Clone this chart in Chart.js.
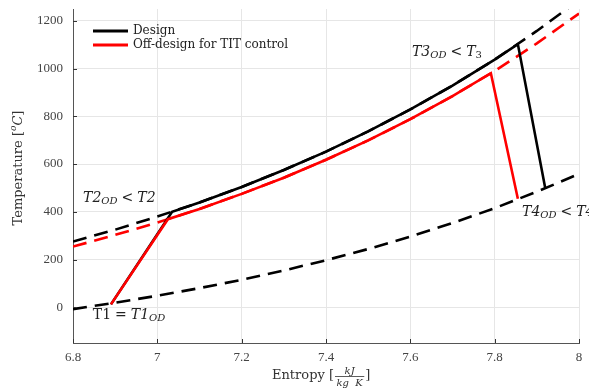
<!DOCTYPE html>
<html>
<head>
<meta charset="utf-8">
<script src="https://cdn.jsdelivr.net/npm/chart.js@4.4.1/dist/chart.umd.min.js"></script>
<style>
  html, body { margin: 0; padding: 0; background: #fff; }
  #wrap { width: 589px; height: 388px; }
</style>
</head>
<body>
<div id="wrap"><canvas id="ts"></canvas></div>
<script>
// Entropy axis ticks [kJ/(kg K)] and temperature axis ticks [°C]
const xTicks = [6.8, 7.0, 7.2, 7.4, 7.6, 7.8, 8.0];
const yTicks = [0, 200, 400, 600, 800, 1000, 1200];

// Low-pressure isobar (shared by both cycles)
const lowS = [6.8, 6.9, 7.0, 7.1, 7.2, 7.3, 7.4, 7.5, 7.6, 7.7, 7.8, 7.9, 8.0];
const lowT = [-8, 19, 48, 80, 115, 154, 197, 244, 296, 353, 415, 484, 559];

// High-pressure isobar, design point
const hiS = [6.8, 6.9, 7.0, 7.1, 7.2, 7.3, 7.4, 7.5, 7.6, 7.7, 7.8, 7.9, 8.0];
const hiT = [275, 325, 380, 439, 504, 575, 652, 737, 829, 929, 1038, 1158, 1288];

// High-pressure isobar, off-design (TIT control)
const odS = [6.8, 6.9, 7.0, 7.1, 7.2, 7.3, 7.4, 7.5, 7.6, 7.7, 7.8, 7.9, 8.0];
const odT = [254, 303, 355, 412, 475, 543, 618, 699, 788, 885, 990, 1106, 1231];

// Design cycle: compression 1-2, heating 2-3, expansion 3-4
const designS = [6.89, 7.035, 7.1, 7.2, 7.3, 7.4, 7.5, 7.6, 7.7, 7.8, 7.855, 7.92];
const designT = [12, 400, 439, 504, 575, 652, 737, 829, 929, 1038, 1103, 499];

// Off-design cycle
const offS = [6.89, 7.025, 7.1, 7.2, 7.3, 7.4, 7.5, 7.6, 7.7, 7.791, 7.855];
const offT = [12, 369, 412, 475, 543, 618, 699, 788, 885, 981, 455];

const legendLabels = ['Design', 'Off-design for TIT control'];

const pts = (s, t) => s.map((v, i) => ({ x: v, y: t[i] }));
const SERIF = "'Liberation Serif', 'DejaVu Serif', serif";
const WIDE = "'DejaVu Serif', 'Liberation Serif', serif";
const DASH = [14, 8];

function line(data, color, dash) {
  return {
    data, borderColor: color, borderWidth: 2.6, borderDash: dash || [],
    showLine: true, pointRadius: 0, tension: 0, fill: false,
    borderCapStyle: 'butt', borderJoinStyle: 'miter'
  };
}

// Draws a sequence of text runs (roman / italic / subscript) from a left anchor
function drawRuns(ctx, x, y, runs, family) {
  let cx = x;
  for (const r of runs) {
    ctx.font = (r.italic ? 'italic ' : '') + r.size + 'px ' + (family || SERIF);
    ctx.fillText(r.text, cx, y + (r.dy || 0));
    cx += ctx.measureText(r.text).width + (r.gap || 0);
  }
  return cx;
}

const sub = t => ({ text: t, italic: true, size: 10, dy: 3, gap: 4 });
const rel = t => ({ text: t, size: 14, gap: 4 });

const decorations = {
  id: 'decorations',
  afterDraw(chart) {
    const { ctx, chartArea: a, scales: { x, y } } = chart;
    ctx.save();

    // inward tick marks
    ctx.strokeStyle = '#333';
    ctx.lineWidth = 1;
    ctx.beginPath();
    for (const v of xTicks) {
      const px = Math.round(x.getPixelForValue(v)) + 0.5;
      ctx.moveTo(px, a.bottom); ctx.lineTo(px, a.bottom - 4);
    }
    for (const v of yTicks) {
      const py = Math.round(y.getPixelForValue(v)) + 0.5;
      ctx.moveTo(a.left, py); ctx.lineTo(a.left + 4, py);
    }
    ctx.stroke();

    // legend
    const lx = a.left + 20, ly = a.top + 22;
    const colors = ['#000', '#ff0000'];
    ctx.textBaseline = 'middle';
    ctx.fillStyle = '#222';
    legendLabels.forEach((lab, i) => {
      const yy = ly + i * 14;
      ctx.strokeStyle = colors[i];
      ctx.lineWidth = 3;
      ctx.beginPath(); ctx.moveTo(lx, yy); ctx.lineTo(lx + 35, yy); ctx.stroke();
      ctx.font = '12px ' + WIDE;
      ctx.fillText(lab, lx + 40, yy);
    });

    // state point annotations
    ctx.fillStyle = '#222';
    ctx.textBaseline = 'middle';
    const at = (s, t) => [x.getPixelForValue(s), y.getPixelForValue(t)];
    let p = at(6.824, 457);
    drawRuns(ctx, p[0], p[1], [
      { text: 'T2', italic: true, size: 14 }, sub('OD'), rel('<'),
      { text: 'T2', italic: true, size: 14 }
    ], WIDE);
    p = at(7.604, 1069);
    drawRuns(ctx, p[0], p[1], [
      { text: 'T3', italic: true, size: 14 }, sub('OD'), rel('<'),
      { text: 'T', italic: true, size: 14 },
      { text: '3', size: 10, dy: 3 }
    ], WIDE);
    p = at(7.865, 398);
    drawRuns(ctx, p[0], p[1], [
      { text: 'T4', italic: true, size: 14 }, sub('OD'), rel('<'),
      { text: 'T4', italic: true, size: 14 }
    ], WIDE);
    p = at(6.847, -34);
    drawRuns(ctx, p[0], p[1], [
      { text: 'T1', size: 14, gap: 4 }, rel('='),
      { text: 'T1', italic: true, size: 14 },
      { text: 'OD', italic: true, size: 10, dy: 3 }
    ], WIDE);

    // x axis title with fraction
    ctx.fillStyle = '#333';
    const tx = 272, ty = 376;
    let cx = drawRuns(ctx, tx, ty, [{ text: 'Entropy [', size: 13 }], WIDE);
    cx += 1;
    ctx.font = 'italic 10px ' + WIDE;
    const wNum = ctx.measureText('kJ').width;
    const wDen = ctx.measureText('kg  K').width;
    const wf = Math.max(wNum, wDen) + 3;
    ctx.textAlign = 'center';
    ctx.fillText('kJ', cx + wf / 2, ty - 5);
    ctx.fillText('kg  K', cx + wf / 2, ty + 7);
    ctx.strokeStyle = '#333';
    ctx.lineWidth = 0.8;
    ctx.beginPath(); ctx.moveTo(cx, ty + 0.5); ctx.lineTo(cx + wf, ty + 0.5); ctx.stroke();
    ctx.textAlign = 'left';
    drawRuns(ctx, cx + wf + 1, ty, [{ text: ']', size: 13 }], WIDE);

    // y axis title
    ctx.save();
    ctx.translate(19, 168);
    ctx.rotate(-Math.PI / 2);
    const parts = [
      { text: 'Temperature [', size: 13 },
      { text: 'o', italic: true, size: 9, dy: -5 },
      { text: 'C', italic: true, size: 13 },
      { text: ']', size: 13 }
    ];
    let w = 0;
    for (const r of parts) {
      ctx.font = (r.italic ? 'italic ' : '') + r.size + 'px ' + WIDE;
      w += ctx.measureText(r.text).width;
    }
    drawRuns(ctx, -w / 2, 0, parts, WIDE);
    ctx.restore();

    ctx.restore();
  }
};

new Chart(document.getElementById('ts'), {
  type: 'scatter',
  data: {
    datasets: [
      line(pts(offS, offT), '#ff0000'),
      line(pts(designS, designT), '#000000'),
      line(pts(odS, odT), '#ff0000', DASH),
      line(pts(hiS, hiT), '#000000', DASH),
      line(pts(lowS, lowT), '#000000', DASH)
    ]
  },
  options: {
    responsive: true,
    maintainAspectRatio: false,
    animation: false,
    events: [],
    layout: { padding: { top: 9, right: 10, left: 0, bottom: 0 } },
    plugins: { legend: { display: false }, tooltip: { enabled: false } },
    scales: {
      x: {
        type: 'linear', min: 6.8, max: 8.0,
        afterBuildTicks: s => { s.ticks = xTicks.map(v => ({ value: v })); },
        afterFit: s => { s.height = 45; s.paddingLeft = 0; s.paddingRight = 0; },
        ticks: {
          padding: 7, color: '#444', font: { family: SERIF, size: 13 },
          callback: v => String(parseFloat(v.toFixed(1)))
        },
        grid: { color: '#e6e6e6', lineWidth: 1, drawTicks: false },
        border: { display: true, color: '#555', width: 1 }
      },
      y: {
        type: 'linear', min: -150, max: 1250,
        afterBuildTicks: s => { s.ticks = yTicks.map(v => ({ value: v })); },
        afterFit: s => { s.width = 73; s.paddingTop = 0; s.paddingBottom = 0; },
        ticks: {
          padding: 10, color: '#444', font: { family: SERIF, size: 13 },
          callback: v => String(v)
        },
        grid: { color: '#e6e6e6', lineWidth: 1, drawTicks: false },
        border: { display: true, color: '#555', width: 1 }
      }
    }
  },
  plugins: [decorations]
});
</script>
</body>
</html>
